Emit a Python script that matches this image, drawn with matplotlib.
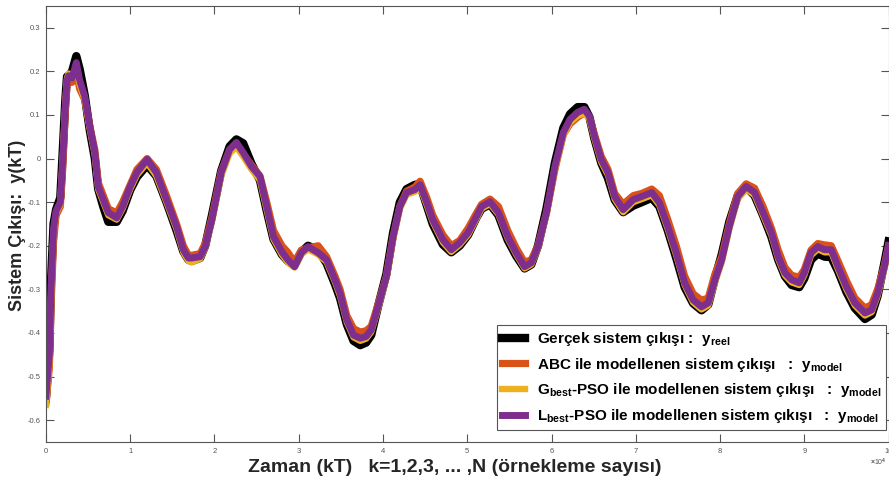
import matplotlib
matplotlib.use('Agg')
import matplotlib.pyplot as plt

plt.rcParams['font.family'] = ['Liberation Sans', 'DejaVu Sans']
plt.rcParams['mathtext.fontset'] = 'custom'
plt.rcParams['mathtext.rm'] = 'Liberation Sans:bold'
plt.rcParams['mathtext.bf'] = 'Liberation Sans:bold'

# sample axis, in units of 10^4
k = [0.00, 0.04, 0.06, 0.09, 0.12, 0.17, 0.20, 0.23, 0.25, 0.27,
     0.31, 0.36, 0.40, 0.46, 0.52, 0.58, 0.62, 0.68, 0.74, 0.84,
     0.91, 1.00, 1.08, 1.20, 1.31, 1.43, 1.55, 1.63, 1.69, 1.73,
     1.83, 1.89, 1.97, 2.08, 2.18, 2.26, 2.34, 2.44, 2.54, 2.62,
     2.70, 2.80, 2.87, 2.95, 3.03, 3.11, 3.23, 3.33, 3.43, 3.49,
     3.57, 3.65, 3.73, 3.80, 3.86, 3.94, 4.04, 4.12, 4.20, 4.28,
     4.38, 4.44, 4.52, 4.59, 4.71, 4.81, 4.91, 5.01, 5.11, 5.17,
     5.27, 5.37, 5.48, 5.58, 5.68, 5.76, 5.84, 5.94, 6.04, 6.14,
     6.22, 6.31, 6.39, 6.45, 6.51, 6.59, 6.67, 6.75, 6.85, 6.97,
     7.07, 7.19, 7.28, 7.38, 7.48, 7.58, 7.68, 7.78, 7.86, 7.94,
     8.02, 8.11, 8.21, 8.31, 8.41, 8.51, 8.61, 8.69, 8.77, 8.85,
     8.94, 9.00, 9.08, 9.16, 9.24, 9.32, 9.40, 9.50, 9.60, 9.72,
     9.80, 9.87, 9.95, 10.00]

y_reel = [-0.55, -0.44, -0.28, -0.15, -0.117, -0.09, 0.02, 0.135, 0.188, 0.19,
          0.20, 0.235, 0.205, 0.145, 0.065, 0.0, -0.07, -0.11, -0.145, -0.145,
          -0.12, -0.072, -0.042, -0.015, -0.04, -0.10, -0.165, -0.213, -0.232, -0.235,
          -0.228, -0.20, -0.13, -0.028, 0.028, 0.044, 0.035, -0.012, -0.05, -0.12,
          -0.185, -0.22, -0.235, -0.245, -0.215, -0.20, -0.21, -0.24, -0.288, -0.32,
          -0.38, -0.418, -0.428, -0.422, -0.405, -0.34, -0.265, -0.17, -0.10, -0.07,
          -0.06, -0.06, -0.108, -0.15, -0.197, -0.215, -0.20, -0.175, -0.135, -0.115,
          -0.105, -0.13, -0.187, -0.223, -0.252, -0.243, -0.20, -0.115, -0.01, 0.07,
          0.102, 0.118, 0.118, 0.095, 0.045, -0.01, -0.045, -0.095, -0.123, -0.108,
          -0.10, -0.09, -0.11, -0.165, -0.228, -0.295, -0.332, -0.348, -0.335, -0.275,
          -0.22, -0.145, -0.085, -0.065, -0.085, -0.13, -0.18, -0.232, -0.27, -0.29,
          -0.295, -0.275, -0.232, -0.218, -0.225, -0.226, -0.258, -0.306, -0.343, -0.368,
          -0.358, -0.315, -0.24, -0.19]

y_abc = [-0.56, -0.48, -0.34, -0.19, -0.13, -0.11, -0.02, 0.11, 0.17, 0.175,
         0.175, 0.20, 0.16, 0.135, 0.075, 0.02, -0.055, -0.085, -0.115, -0.125,
         -0.10, -0.06, -0.025, 0.0, -0.025, -0.085, -0.15, -0.20, -0.222, -0.222,
         -0.218, -0.195, -0.135, -0.03, 0.02, 0.03, 0.01, -0.015, -0.04, -0.10,
         -0.165, -0.20, -0.215, -0.238, -0.21, -0.205, -0.20, -0.225, -0.27, -0.30,
         -0.36, -0.39, -0.398, -0.395, -0.385, -0.335, -0.27, -0.18, -0.11, -0.075,
         -0.065, -0.052, -0.09, -0.13, -0.175, -0.20, -0.188, -0.16, -0.125, -0.105,
         -0.093, -0.11, -0.165, -0.205, -0.238, -0.232, -0.20, -0.125, -0.025, 0.055,
         0.08, 0.095, 0.105, 0.095, 0.055, 0.005, -0.025, -0.08, -0.105, -0.085,
         -0.08, -0.07, -0.085, -0.14, -0.20, -0.27, -0.31, -0.325, -0.32, -0.265,
         -0.225, -0.15, -0.08, -0.058, -0.068, -0.11, -0.16, -0.21, -0.25, -0.268,
         -0.272, -0.255, -0.21, -0.195, -0.198, -0.20, -0.235, -0.28, -0.32, -0.343,
         -0.335, -0.30, -0.245, -0.20]

y_gbest = [-0.565, -0.47, -0.32, -0.17, -0.125, -0.105, 0.0, 0.125, 0.185, 0.195,
           0.19, 0.21, 0.17, 0.135, 0.068, 0.008, -0.07, -0.10, -0.13, -0.14,
           -0.115, -0.07, -0.038, -0.01, -0.04, -0.10, -0.162, -0.215, -0.235, -0.238,
           -0.23, -0.205, -0.145, -0.04, 0.012, 0.027, 0.005, -0.025, -0.05, -0.118,
           -0.185, -0.22, -0.238, -0.25, -0.22, -0.208, -0.22, -0.237, -0.283, -0.315,
           -0.375, -0.41, -0.418, -0.413, -0.398, -0.345, -0.275, -0.185, -0.115, -0.083,
           -0.076, -0.066, -0.107, -0.145, -0.192, -0.214, -0.198, -0.175, -0.138, -0.115,
           -0.104, -0.128, -0.183, -0.22, -0.252, -0.243, -0.206, -0.128, -0.024, 0.053,
           0.083, 0.098, 0.104, 0.09, 0.045, -0.008, -0.038, -0.093, -0.123, -0.10,
           -0.093, -0.084, -0.107, -0.162, -0.222, -0.29, -0.33, -0.346, -0.337, -0.284,
           -0.238, -0.162, -0.093, -0.07, -0.084, -0.13, -0.176, -0.23, -0.268, -0.284,
           -0.29, -0.268, -0.222, -0.208, -0.215, -0.215, -0.254, -0.30, -0.337, -0.36,
           -0.352, -0.315, -0.254, -0.205]

y_lbest = [-0.545, -0.45, -0.30, -0.16, -0.12, -0.10, 0.0, 0.12, 0.18, 0.19,
           0.185, 0.22, 0.18, 0.143, 0.074, 0.014, -0.064, -0.094, -0.124, -0.136,
           -0.11, -0.064, -0.032, -0.002, -0.032, -0.094, -0.156, -0.209, -0.228, -0.228,
           -0.225, -0.202, -0.14, -0.032, 0.021, 0.037, 0.014, -0.018, -0.041, -0.11,
           -0.179, -0.214, -0.232, -0.248, -0.216, -0.202, -0.216, -0.232, -0.278, -0.309,
           -0.37, -0.405, -0.412, -0.408, -0.393, -0.34, -0.271, -0.179, -0.11, -0.078,
           -0.071, -0.06, -0.101, -0.14, -0.186, -0.209, -0.193, -0.17, -0.133, -0.11,
           -0.099, -0.124, -0.179, -0.216, -0.248, -0.239, -0.202, -0.124, -0.018, 0.06,
           0.09, 0.106, 0.113, 0.097, 0.051, -0.002, -0.032, -0.087, -0.117, -0.094,
           -0.087, -0.078, -0.101, -0.156, -0.216, -0.285, -0.324, -0.34, -0.331, -0.278,
           -0.232, -0.156, -0.087, -0.064, -0.078, -0.124, -0.17, -0.225, -0.262, -0.278,
           -0.285, -0.262, -0.216, -0.202, -0.209, -0.209, -0.248, -0.294, -0.331, -0.354,
           -0.347, -0.309, -0.248, -0.20]

labels = [r'Gerçek sistem çıkışı :  y$_{\mathbf{reel}}$',
          r'ABC ile modellenen sistem çıkışı   :  y$_{\mathbf{model}}$',
          r'G$_{\mathbf{best}}$-PSO ile modellenen sistem çıkışı   :  y$_{\mathbf{model}}$',
          r'L$_{\mathbf{best}}$-PSO ile modellenen sistem çıkışı   :  y$_{\mathbf{model}}$']

fig = plt.figure(figsize=(8.89, 4.83), dpi=100)
ax = fig.add_axes([0.0517, 0.085, 0.9478, 0.9026])

ax.plot(k, y_reel, color='black', lw=6.0, label=labels[0], solid_joinstyle='round')
ax.plot(k, y_abc, color='#D95319', lw=5.2, label=labels[1], solid_joinstyle='round')
ax.plot(k, y_gbest, color='#EDB120', lw=4.6, label=labels[2], solid_joinstyle='round')
ax.plot(k, y_lbest, color='#7E2F8E', lw=5.0, label=labels[3], solid_joinstyle='round')

ax.set_xlim(0, 10)
ax.set_ylim(-0.65, 0.35)
ax.set_xticks(range(0, 11))
ax.set_yticks([-0.6, -0.5, -0.4, -0.3, -0.2, -0.1, 0, 0.1, 0.2, 0.3])
ax.set_yticklabels(['-0.6', '-0.5', '-0.4', '-0.3', '-0.2', '-0.1', '0', '0.1', '0.2', '0.3'])
ax.tick_params(direction='in', length=6, width=0.8, labelsize=5.5, colors='#555555',
               top=True, right=True, pad=4)
for s in ax.spines.values():
    s.set_color('#555555')
    s.set_linewidth(0.8)

fig.text(455 / 889, 1 - 467 / 483, 'Zaman (kT)   k=1,2,3, ... ,N (örnekleme sayısı)',
         ha='center', va='center', fontsize=14, fontweight='bold', color='#262626')
fig.text(18 / 889, 1 - 225 / 483, 'Sistem Çıkışı:  y(kT)', rotation=90,
         ha='center', va='center', fontsize=13, fontweight='bold', color='#262626')
fig.text(878 / 889, 1 - 462 / 483, r'$\times$10$^4$', ha='center', va='center',
         fontsize=5, color='#555555')

leg = ax.legend(loc='lower right', bbox_to_anchor=(1.006, 0.011), fancybox=False,
                framealpha=1, edgecolor='#555555', handlelength=1.5, handletextpad=0.8,
                labelspacing=0.5, borderpad=0.3,
                prop={'weight': 'bold', 'size': 11})
leg.get_frame().set_linewidth(0.8)

fig.savefig('out.png', dpi=100)
